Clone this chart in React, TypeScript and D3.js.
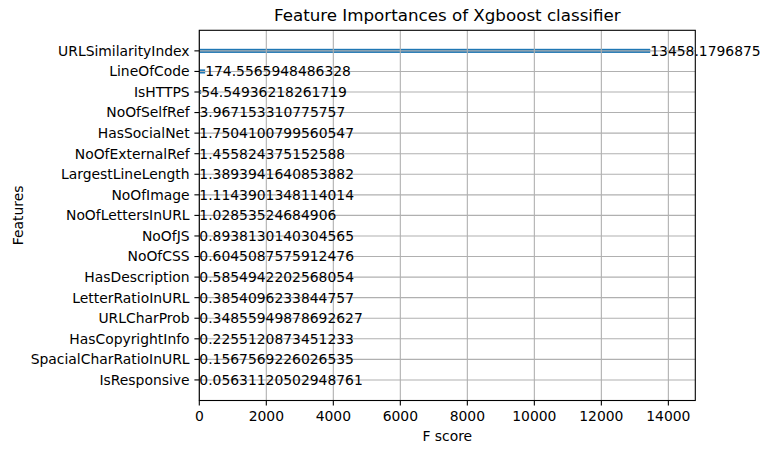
import React from "react";
import * as d3 from "d3";

const features: string[] = [
  "URLSimilarityIndex",
  "LineOfCode",
  "IsHTTPS",
  "NoOfSelfRef",
  "HasSocialNet",
  "NoOfExternalRef",
  "LargestLineLength",
  "NoOfImage",
  "NoOfLettersInURL",
  "NoOfJS",
  "NoOfCSS",
  "HasDescription",
  "LetterRatioInURL",
  "URLCharProb",
  "HasCopyrightInfo",
  "SpacialCharRatioInURL",
  "IsResponsive",
];

const scores: number[] = [
  13458.1796875,
  174.5565948486328,
  54.54936218261719,
  3.967153310775757,
  1.7504100799560547,
  1.455824375152588,
  1.3893941640853882,
  1.1143901348114014,
  1.02853524684906,
  0.8938130140304565,
  0.6045087575912476,
  0.5854942202568054,
  0.3854096233844757,
  0.34855949878692627,
  0.2255120873451233,
  0.1567569226026535,
  0.05631120502948761,
];

const xTicks: number[] = [0, 2000, 4000, 6000, 8000, 10000, 12000, 14000];

const W = 770;
const H = 453;
const left = 199.3;
const right = 695.3;
const top = 30.3;
const bottom = 400.5;
const FONT = "DejaVu Sans, sans-serif";
const BLUE = "#1f77b4";
const GRID = "#b0b0b0";

export default function App() {
  const n = features.length;
  const x = d3.scaleLinear().domain([0, d3.max(scores)! * 1.1]).range([left, right]);
  // index 0 at bottom (matplotlib barh order), features listed top to bottom
  const y = d3.scaleLinear().domain([-1, n]).range([bottom, top]);
  const yPos = (i: number) => y(n - 1 - i);
  const barH = Math.abs(y(0.2) - y(0));

  return (
    <svg
      width={W}
      height={H}
      style={{ position: "absolute", left: 0, top: 0, background: "#fff" }}
      fontFamily={FONT}
    >
      <rect x={0} y={0} width={W} height={H} fill="#fff" />
      {/* bars */}
      {scores.map((v, i) => (
        <rect
          key={"b" + i}
          x={x(0)}
          y={yPos(i) - barH / 2}
          width={Math.max(0, x(v) - x(0))}
          height={barH}
          fill={BLUE}
        />
      ))}
      {/* grid */}
      {xTicks.map((t) => (
        <line key={"gx" + t} x1={x(t)} x2={x(t)} y1={top} y2={bottom} stroke={GRID} strokeWidth={1.1} />
      ))}
      {features.map((f, i) => (
        <line key={"gy" + f} x1={left} x2={right} y1={yPos(i)} y2={yPos(i)} stroke={GRID} strokeWidth={1.1} />
      ))}
      {/* value labels */}
      {scores.map((v, i) => (
        <text
          key={"v" + i}
          x={x(v)}
          y={yPos(i)}
          dy="0.35em"
          fontSize={13.9}
          fill="#000"
        >
          {String(v)}
        </text>
      ))}
      {/* axes frame */}
      <rect x={left} y={top} width={right - left} height={bottom - top} fill="none" stroke="#000" strokeWidth={1.1} />
      {/* x ticks */}
      {xTicks.map((t) => (
        <g key={"tx" + t}>
          <line x1={x(t)} x2={x(t)} y1={bottom} y2={bottom + 4.9} stroke="#000" strokeWidth={1.1} />
          <text x={x(t)} y={bottom + 9.7} dy="0.8em" textAnchor="middle" fontSize={13.9} fill="#000">
            {String(t)}
          </text>
        </g>
      ))}
      {/* y ticks */}
      {features.map((f, i) => (
        <g key={"ty" + f}>
          <line x1={left - 4.9} x2={left} y1={yPos(i)} y2={yPos(i)} stroke="#000" strokeWidth={1.1} />
          <text x={left - 9.7} y={yPos(i)} dy="0.35em" textAnchor="end" fontSize={13.9} fill="#000">
            {f}
          </text>
        </g>
      ))}
      {/* labels */}
      <text x={(left + right) / 2} y={20.8} textAnchor="middle" fontSize={16.7} fill="#000">
        Feature Importances of Xgboost classifier
      </text>
      <text x={(left + right) / 2} y={441} textAnchor="middle" fontSize={13.9} fill="#000">
        F score
      </text>
      <text
        transform={`translate(22.5,${(top + bottom) / 2}) rotate(-90)`}
        textAnchor="middle"
        fontSize={13.9}
        fill="#000"
      >
        Features
      </text>
    </svg>
  );
}
